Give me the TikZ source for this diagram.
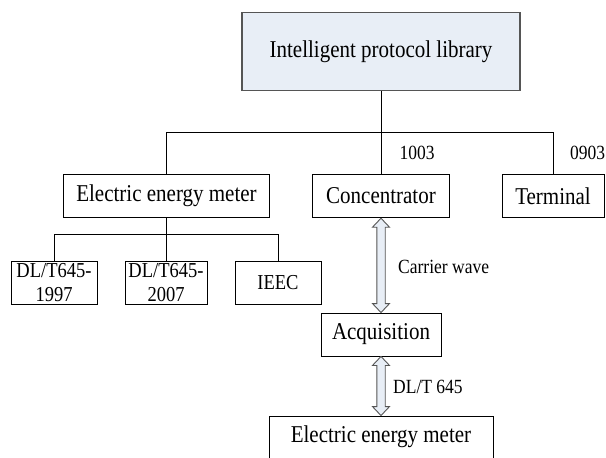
\documentclass[tikz,border=0pt]{standalone}
\usepackage{fontspec}
\setmainfont{Liberation Serif}
\usetikzlibrary{calc}
\definecolor{boxblue}{HTML}{E8EEF6}
\definecolor{edgegray}{HTML}{555555}
\newcommand\tall[1]{\scalebox{1}[1.15]{#1}}
\tikzset{
  boxnode/.style={draw=black, line width=0.9pt, inner sep=0pt, align=center,
    font=\fontsize{21}{24}\selectfont},
  smallbox/.style={boxnode, font=\fontsize{18.5}{24}\selectfont},
  labeltext/.style={inner sep=0pt, anchor=west, font=\fontsize{17.5}{20}\selectfont},
  link/.style={draw=black, line width=0.9pt},
  arrowbox/.style={draw=edgegray, fill=boxblue, line width=0.9pt, line join=miter}
}
\newcommand\hollowarrow[2]{%
  \path[arrowbox] let \p1=(#1), \p2=(#2) in
    (\x1,\y1) -- (\x1+8.5pt,\y1-9pt) -- (\x1+4.2pt,\y1-9pt) -- (\x1+4.2pt,\y2+9pt)
    -- (\x1+8.5pt,\y2+9pt) -- (\x1,\y2) -- (\x1-8.5pt,\y2+9pt) -- (\x1-4.2pt,\y2+9pt)
    -- (\x1-4.2pt,\y1-9pt) -- (\x1-8.5pt,\y1-9pt) -- cycle;}
\begin{document}
\begin{tikzpicture}[x=1pt,y=-1pt]
\useasboundingbox (0,0) rectangle (606,458);
\clip (0,0) rectangle (606,458);
\fill[white] (0,0) rectangle (606,458);
% nodes
\node[boxnode, draw=edgegray, line width=1.3pt, fill=boxblue, minimum width=278pt, minimum height=78pt] (top) at (381,51.7) {\tall{Intelligent protocol library}};
\node[boxnode, minimum width=206pt, minimum height=43.5pt] (eem) at (166.5,196) {\tall{Electric energy meter}};
\node[boxnode, minimum width=137pt, minimum height=43.5pt] (conc) at (381,196) {\tall{Concentrator}};
\node[boxnode, minimum width=102pt, minimum height=43.5pt] (term) at (553,196) {\tall{Terminal}};
\node[smallbox, minimum width=86pt, minimum height=43.5pt] (dla) at (54,282.7) {\tall{DL/T645-}\\\tall{1997}};
\node[smallbox, minimum width=82pt, minimum height=43.5pt] (dlb) at (166,282.7) {\tall{DL/T645-}\\\tall{2007}};
\node[smallbox, minimum width=86pt, minimum height=43.5pt] (ieec) at (278,282.7) {\tall{IEEC}};
\node[boxnode, minimum width=120pt, minimum height=43pt] (acq) at (381,334.5) {\tall{Acquisition}};
\node[boxnode, minimum width=224pt, minimum height=42pt] (meter) at (381,437) {\tall{Electric energy meter}};
% labels
\node[labeltext] (l1003) at (399.5,152.5) {\tall{1003}};
\node[labeltext] (l0903) at (570,152.5) {\tall{0903}};
\node[labeltext] (lcarrier) at (398,266.7) {\tall{Carrier wave}};
\node[labeltext] (ldlt) at (393,387) {\tall{DL/T 645}};
% tree connectors
\coordinate (bar) at (0,132);
\coordinate (bartwo) at (0,234.3);
\draw[link] (top.south) -- (top.south |- bar);
\draw[link] (eem.north) -- (eem.north |- bar) -| (term.north);
\draw[link] (conc.north) -- (conc.north |- bar);
\draw[link] (eem.south) -- (eem.south |- bartwo);
\draw[link] (dla.north) -- (dla.north |- bartwo) -| (ieec.north);
\draw[link] (dlb.north) -- (dlb.north |- bartwo);
% hollow double arrows
\hollowarrow{conc.south}{acq.north}
\hollowarrow{acq.south}{meter.north}
\end{tikzpicture}
\end{document}
